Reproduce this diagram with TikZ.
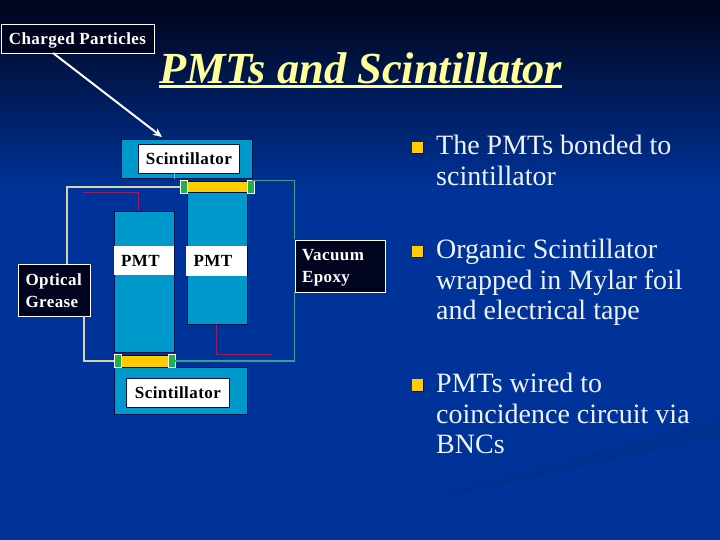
\documentclass[tikz,border=0pt]{standalone}
\usepackage{fontspec}
\setmainfont{Liberation Serif}
\usetikzlibrary{positioning,arrows.meta,shadows}
\definecolor{PSBack}{HTML}{003399}
\definecolor{PSTop}{HTML}{00041A}
\definecolor{PSBand}{HTML}{003090}
\definecolor{PSBlock}{HTML}{0099CC}
\definecolor{PSEdge}{HTML}{00104F}
\definecolor{PSGlue}{HTML}{FFCC00}
\definecolor{PSPad}{HTML}{1FB14C}
\definecolor{PSTitle}{HTML}{FFFF99}
\definecolor{PSInk}{HTML}{EEF3F8}
\definecolor{PSCream}{HTML}{D4D4AC}
\definecolor{PSTeal}{HTML}{3AA08F}
\definecolor{PSWine}{HTML}{962063}
\definecolor{PSBox}{HTML}{00041F}

\tikzset{
  block/.style={draw=PSEdge, fill=PSBlock, line width=0.8pt, inner sep=0pt, anchor=north west},
  glue/.style={draw=PSEdge, fill=PSGlue, line width=0.8pt, inner sep=0pt, anchor=north west},
  pad/.style={draw=white, fill=PSPad, line width=0.8pt, inner sep=0pt, anchor=north west},
  whitebox/.style={draw=PSEdge, fill=white, text=black, line width=0.8pt, inner sep=0pt, anchor=north west,
    font=\fontsize{17}{21}\selectfont\bfseries\addfontfeature{LetterSpace=2.5}},
  darkbox/.style={draw=white, fill=PSBox, text=white, line width=1pt, inner sep=0pt, anchor=north west,
    align=left, font=\fontsize{17}{22}\selectfont\bfseries\addfontfeature{LetterSpace=2.5}},
  bullet/.style={fill=PSGlue, minimum size=11.5pt, inner sep=0pt,
    drop shadow={shadow xshift=1pt, shadow yshift=-1pt, fill=black, opacity=0.7}},
  bodytext/.style={text=PSInk, anchor=north west, inner sep=0pt, align=left,
    font=\fontsize{28}{30.6}\selectfont},
  cream/.style={PSCream, line width=2pt},
  teal/.style={PSTeal, line width=1.5pt},
  wine/.style={PSWine, line width=1pt},
}

\begin{document}
\begin{tikzpicture}[x=1pt,y=-1pt]
\useasboundingbox (0,0) rectangle (720,540);
% background
\fill[PSBack] (0,0) rectangle (720,540);
\shade[top color=PSTop, bottom color=PSBack] (0,0) rectangle (720,190);
\fill[PSBand] (720,438) .. controls (620,455) and (500,490) .. (390,505)
  .. controls (500,480) and (620,445) .. (720,418) -- cycle;
% title
\node[anchor=base west, inner sep=0pt, text=PSTitle, font=\fontsize{44.4}{50}\selectfont\bfseries\itshape] (title) at (159,84) {PMTs and Scintillator};
\fill[PSTitle] (159,85.5) rectangle (562,88.5);
% scintillators and PMTs
\node[block, minimum width=131pt, minimum height=39.5pt] (scintTop) at (120.7,138.7) {};
\node[block, minimum width=60pt, minimum height=132pt] (pmtRight) at (187,192) {};
\node[block, minimum width=60pt, minimum height=141.5pt] (pmtLeft) at (114,210.7) {};
\node[block, minimum width=132.5pt, minimum height=47.5pt] (scintBot) at (114,366.7) {};
% grease joints
\node[glue, minimum width=60pt, minimum height=11.5pt] (glueTop) at (187,180.7) {};
\node[glue, minimum width=47pt, minimum height=12pt] (glueBot) at (121,354.7) {};
\foreach \name/\x/\y in {padTL/180/180.3,padTR/247/180.3,padBL/114/354.3,padBR/168/354.3} {
  \node[pad, minimum width=6.5pt, minimum height=12.7pt] (\name) at (\x,\y) {};
}
% free ends of the wires
\coordinate (creamT) at (66.7,264);
\coordinate (creamB) at (84.3,316);
\coordinate (tealT) at (294.3,239);
\coordinate (tealB) at (294.3,292);
\coordinate (wineT) at (83,192.5);
\coordinate (wineTd) at (138.3,210.7);
\coordinate (wineB) at (271.7,354.5);
\coordinate (wineBd) at (216.7,324);
\coordinate (tickT) at (174,173);
% labels
\node[whitebox, minimum width=101pt, minimum height=29pt] (labTop) at (138,144) {Scintillator};
\node[whitebox, minimum width=103pt, minimum height=29pt] (labBot) at (126,378) {Scintillator};
\node[whitebox, draw=none, minimum width=60pt, minimum height=29pt] (labPmtL) at (114,246) {\hspace*{-8pt}PMT};
\node[whitebox, draw=none, minimum width=61pt, minimum height=30pt] (labPmtR) at (186,246) {\hspace*{-8pt}PMT};
\node[darkbox, minimum width=153pt, minimum height=29pt] (charged) at (0.5,24) {\rule{0pt}{15pt}Charged Particles};
\node[darkbox, text width=58pt, minimum height=51.5pt, inner xsep=7pt] (optical) at (18,264) {Optical\\Grease};
\node[darkbox, text width=76pt, minimum height=51.5pt, inner xsep=7pt] (vacuum) at (294.5,240) {\rule{0pt}{15pt}Vacuum\\Epoxy};
% wires
\draw[cream] (padTL.west) -| (creamT);
\draw[cream] (creamB) |- (padBL.west);
\draw[teal] (padTR.north east) ++(-2,0) -| (tealT);
\draw[teal] (padBR.east) -| (tealB);
\draw[wine] (wineT) -| (wineTd);
\draw[wine] (wineBd) |- (wineB);
\draw[PSBlock!70!white, line width=0.8pt] (tickT) -- (tickT |- scintTop.south);
% particle arrow
\draw[white, line width=2pt, -{Stealth[length=9pt,width=8pt]}] (53,53) -- (162,137);
% bullets and text
\foreach \name/\y in {bulA/147.5,bulB/251.5,bulC/385} {
  \node[bullet] (\name) at (417.5,\y) {};
}
\node[bodytext] (txtA) at (436,135) {The PMTs bonded to\\scintillator};
\node[bodytext] (txtB) at (436,239) {Organic Scintillator\\wrapped in Mylar foil\\and electrical tape};
\node[bodytext] (txtC) at (436,373) {PMTs wired to\\coincidence circuit via\\BNCs};
\end{tikzpicture}
\end{document}
